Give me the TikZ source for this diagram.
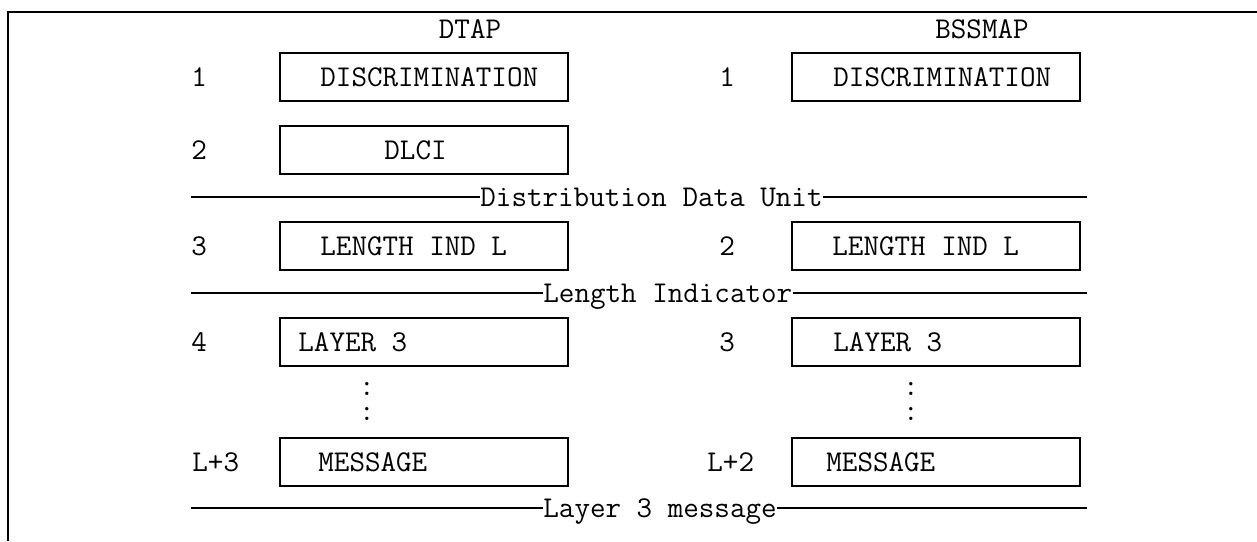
\documentclass[tikz,border=0pt]{standalone}
\begin{document}
\begin{tikzpicture}[x=0.5pt,y=-0.5pt,
  every node/.style={font=\fontsize{15.1pt}{17pt}\ttfamily, inner sep=0pt},
  box/.style={draw, line width=1pt, minimum width=144pt, minimum height=24pt, anchor=north west},
  txt/.style={anchor=west, text height=9.2pt, text depth=0pt},
  ctr/.style={anchor=center, text height=9.2pt, text depth=0pt},
  dotnode/.style={anchor=center, align=center, font=\fontsize{15.1pt}{12.5pt}\ttfamily},
  rule/.style={line width=0.75pt},
  frame/.style={line width=0.6pt}]
\useasboundingbox (0,0) rectangle (1257,541);
% frame
\coordinate (f1) at (1257,12);
\coordinate (f2) at (8,12);
\coordinate (f3) at (8,541);
\draw[frame] (f1) -- (f2) -- (f3);
% headers
\node[ctr] (hd) at (470,29) {DTAP};
\node[ctr] (hb) at (982,29) {BSSMAP};
% left column boxes
\node[box] (l1) at (279,52) {};
\node[box] (l2) at (279,125) {};
\node[box] (l3) at (279,221) {};
\node[box] (l4) at (279,317) {};
\node[box] (l5) at (279,437) {};
% right column boxes
\node[box] (r1) at (791,52) {};
\node[box] (r3) at (791,221) {};
\node[box] (r4) at (791,317) {};
\node[box] (r5) at (791,437) {};
% box texts
\node[txt] (tl1) at (320,77) {DISCRIMINATION};
\node[txt] (tl2) at (384,150) {DLCI};
\node[txt] (tl3) at (320,246) {LENGTH IND L};
\node[txt] (tl4) at (298,342) {LAYER 3};
\node[txt] (tl5) at (318,462) {MESSAGE};
\node[txt] (tr1) at (833,77) {DISCRIMINATION};
\node[txt] (tr3) at (832,246) {LENGTH IND L};
\node[txt] (tr4) at (833,342) {LAYER 3};
\node[txt] (tr5) at (826,462) {MESSAGE};
% numbers
\node[txt] (nl1) at (191,77) {1};
\node[txt] (nl2) at (191,150) {2};
\node[txt] (nl3) at (191,246) {3};
\node[txt] (nl4) at (191,342) {4};
\node[txt] (nl5) at (192,462) {L+3};
\node[txt] (nr1) at (719,77) {1};
\node[txt] (nr3) at (719,246) {2};
\node[txt] (nr4) at (719,342) {3};
\node[txt] (nr5) at (707,462) {L+2};
% dots
\node[dotnode] (dl) at (367,401) {:\\:};
\node[dotnode] (dr) at (911,401) {:\\:};
% divider lines
\node[txt] (ddu) at (480,197) {Distribution Data Unit};
\node[txt] (li) at (543,293) {Length Indicator};
\node[txt] (l3m) at (543,508) {Layer 3 message};
\coordinate (a1) at (191,197); \coordinate (a2) at (1087,197);
\coordinate (b1) at (191,293); \coordinate (b2) at (1087,293);
\coordinate (c1) at (191,508); \coordinate (c2) at (1087,508);
\draw[rule] (a1) -- (ddu.west);
\draw[rule] (ddu.east) -- (a2);
\draw[rule] (b1) -- (li.west);
\draw[rule] (li.east) -- (b2);
\draw[rule] (c1) -- (l3m.west);
\draw[rule] (l3m.east) -- (c2);
\end{tikzpicture}
\end{document}
